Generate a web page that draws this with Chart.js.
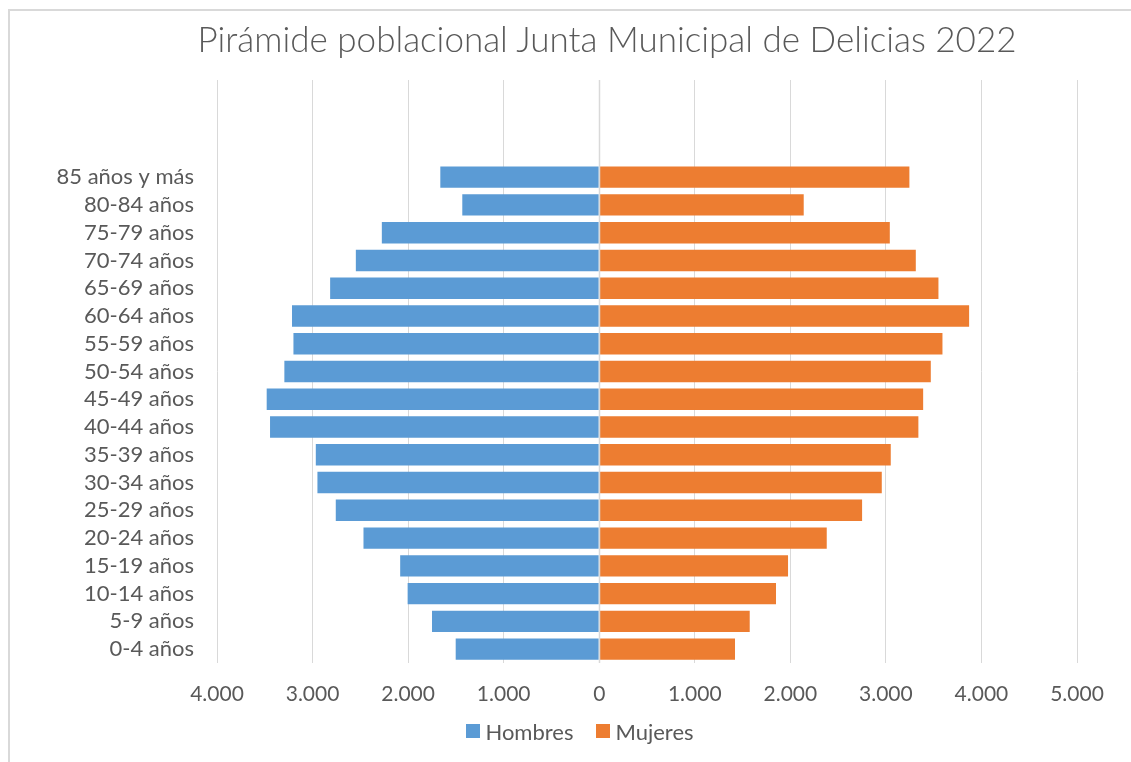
<!DOCTYPE html>
<html>
<head>
<meta charset="utf-8">
<script src="https://cdn.jsdelivr.net/npm/chart.js@4/dist/chart.umd.min.js"></script>
<style>
  html, body { margin: 0; padding: 0; background: #fff; }
  #wrap { position: absolute; left: 0; top: 0; width: 1131px; height: 762px; overflow: hidden; }
  #frame { position: absolute; left: 8px; top: 9px; right: -10px; bottom: -10px;
           border-left: 2px solid #D9D9D9; border-top: 2px solid #D9D9D9; }
  #title { position: absolute; left: 0; width: 1214px; top: 17px; height: 42px; line-height: 42px; text-align: center;
           font-family: Lato, "Open Sans", sans-serif; font-weight: 300; font-size: 35px;
           color: #595959; white-space: nowrap; }
  #legend { position: absolute; left: 0; width: 1160px; top: 716px; height: 30px;
            display: flex; justify-content: center; align-items: center; gap: 23px;
            font-family: Lato, "Open Sans", sans-serif; font-size: 22px; color: #595959; }
  #legend .item { display: flex; align-items: center; }
  #legend .box { width: 14px; height: 14px; margin-right: 5px; }
  canvas { position: absolute; left: 0; top: 0; }
</style>
</head>
<body>
<div id="wrap">
  <div id="frame"></div>
  <canvas id="c" width="1131" height="762"></canvas>
  <div id="title">Pirámide poblacional Junta Municipal de Delicias 2022</div>
  <div id="legend"></div>
</div>
<script>
const categories = ["85 años y más", "80-84 años", "75-79 años", "70-74 años", "65-69 años",
  "60-64 años", "55-59 años", "50-54 años", "45-49 años", "40-44 años", "35-39 años",
  "30-34 años", "25-29 años", "20-24 años", "15-19 años", "10-14 años", "5-9 años", "0-4 años"];
const hombres = [1663, 1433, 2275, 2547, 2816, 3215, 3200, 3295, 3480, 3445, 2966, 2949,
  2757, 2467, 2083, 2005, 1750, 1502];
const mujeres = [3246, 2140, 3041, 3313, 3550, 3871, 3592, 3470, 3390, 3340, 3051, 2957,
  2751, 2381, 1976, 1850, 1575, 1421];
const seriesNames = ["Hombres", "Mujeres"];
const seriesColors = ["#5B9BD5", "#ED7D31"];
const xTicksMin = -4000, xTicksMax = 5000, xTickStep = 1000;
const blankRows = 3;

const labels = Array(blankRows).fill("").concat(categories);
const hData = Array(blankRows).fill(null).concat(hombres.map(v => -v));
const mData = Array(blankRows).fill(null).concat(mujeres);

function fmt(v) {
  const a = Math.abs(v);
  return String(a).replace(/\B(?=(\d{3})+(?!\d))/g, ".");
}

const zeroLine = {
  id: 'zeroLine',
  afterDatasetsDraw(chart) {
    const {ctx, chartArea} = chart;
    const x = Math.round(chart.scales.x.getPixelForValue(0)) + 0.5;
    ctx.save();
    ctx.strokeStyle = '#D9D9D9';
    ctx.lineWidth = 1.5;
    ctx.beginPath();
    ctx.moveTo(x, chartArea.top);
    ctx.lineTo(x, chartArea.bottom);
    ctx.stroke();
    ctx.restore();
  }
};

const txt = '#595959';
const xFont = { family: 'Lato, "Open Sans", sans-serif', size: 21 };
const yFont = { family: 'Lato, "Open Sans", sans-serif', size: 22 };

const chart = new Chart(document.getElementById('c'), {
  type: 'bar',
  data: {
    labels: labels,
    datasets: [
      { label: seriesNames[0], data: hData, backgroundColor: seriesColors[0], borderWidth: 0 },
      { label: seriesNames[1], data: mData, backgroundColor: seriesColors[1], borderWidth: 0 }
    ]
  },
  options: {
    indexAxis: 'y',
    responsive: false,
    animation: false,
    devicePixelRatio: 1,
    layout: { padding: { top: 80, left: 0, right: 54, bottom: 44 } },
    datasets: { bar: { barPercentage: 0.77, categoryPercentage: 1.0 } },
    scales: {
      x: {
        stacked: true,
        min: xTicksMin, max: xTicksMax,
        ticks: { stepSize: xTickStep, callback: v => fmt(v), color: txt, font: xFont, padding: 19, maxRotation: 0 },
        grid: { color: '#D9D9D9', lineWidth: 1, drawTicks: false },
        border: { display: false },
        afterFit: s => { s.height = 55; }
      },
      y: {
        stacked: true,
        ticks: { color: txt, font: yFont, padding: 23, autoSkip: false },
        grid: { display: false, drawTicks: false },
        border: { display: false },
        afterFit: s => { s.width = 217; }
      }
    },
    plugins: {
      title: { display: false },
      tooltip: { enabled: false },
      legend: { display: false }
    }
  },
  plugins: [zeroLine]
});

const legendEl = document.getElementById('legend');
chart.data.datasets.forEach(ds => {
  const item = document.createElement('div');
  item.className = 'item';
  const box = document.createElement('span');
  box.className = 'box';
  box.style.background = ds.backgroundColor;
  const t = document.createElement('span');
  t.textContent = ds.label;
  item.appendChild(box);
  item.appendChild(t);
  legendEl.appendChild(item);
});
</script>
</body>
</html>
